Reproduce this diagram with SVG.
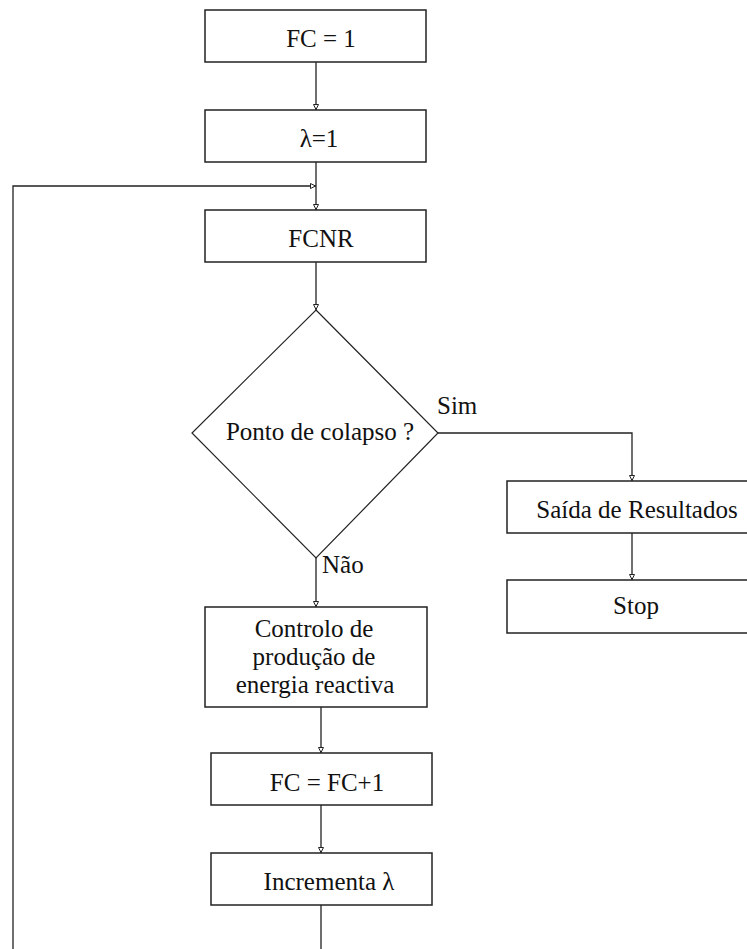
<svg xmlns="http://www.w3.org/2000/svg" width="747" height="949" viewBox="0 0 747 949">
  <style>
    .box { fill: #ffffff; stroke: #222222; stroke-width: 1.5; }
    .dia { fill: #ffffff; stroke: #222222; stroke-width: 1.2; }
    .conn { fill: none; stroke: #222222; stroke-width: 1.3; }
    text { font-family: 'Liberation Serif', 'DejaVu Serif', 'Times New Roman', serif; font-size: 25px; fill: #111111; }
    .mid { text-anchor: middle; }
  </style>
  <defs>
    <marker id="arr" viewBox="0 0 6 6" refX="6" refY="3" markerWidth="6" markerHeight="6" orient="auto" markerUnits="userSpaceOnUse">
      <path d="M0.5,0.5 L5.5,3 L0.5,5.5 Z" fill="#ffffff" stroke="#222222" stroke-width="1"/>
    </marker>
  </defs>
  <rect width="747" height="949" fill="#ffffff"/>

  <g id="connectors">
    <path class="conn" d="M316,62 V110" marker-end="url(#arr)"/>
    <path class="conn" d="M316,162 V210" marker-end="url(#arr)"/>
    <path class="conn" d="M316,262 V310" marker-end="url(#arr)"/>
    <path class="conn" d="M438,433 H632 V481" marker-end="url(#arr)"/>
    <path class="conn" d="M632,533 V580" marker-end="url(#arr)"/>
    <path class="conn" d="M316,558 V607" marker-end="url(#arr)"/>
    <path class="conn" d="M321,707 V753" marker-end="url(#arr)"/>
    <path class="conn" d="M321,805 V853" marker-end="url(#arr)"/>
    <path class="conn" d="M321,905 V952 H13 V186 H316" marker-end="url(#arr)"/>
    <text x="437" y="414">Sim</text>
    <text x="322" y="573">Não</text>
  </g>

  <g id="fc1">
    <rect class="box" x="205" y="10" width="221" height="52"/>
    <text class="mid" x="321" y="47">FC = 1</text>
  </g>
  <g id="lambda1">
    <rect class="box" x="205" y="110" width="221" height="52"/>
    <text class="mid" x="319" y="147">λ=1</text>
  </g>
  <g id="fcnr">
    <rect class="box" x="205" y="210" width="221" height="52"/>
    <text class="mid" x="321" y="247">FCNR</text>
  </g>
  <g id="colapso">
    <polygon class="dia" points="316,310 438,433 316,558 192,433"/>
    <text class="mid" x="320" y="440">Ponto de colapso ?</text>
  </g>
  <g id="saida">
    <rect class="box" x="507" y="481" width="245" height="52"/>
    <text class="mid" x="637" y="518">Saída de Resultados</text>
  </g>
  <g id="stop">
    <rect class="box" x="507" y="580" width="245" height="53"/>
    <text class="mid" x="636" y="614">Stop</text>
  </g>
  <g id="controlo">
    <rect class="box" x="205" y="607" width="222" height="100"/>
    <text class="mid" x="314" y="637">Controlo de</text>
    <text class="mid" x="314" y="665">produção de</text>
    <text class="mid" x="315" y="693">energia reactiva</text>
  </g>
  <g id="fcinc">
    <rect class="box" x="211" y="753" width="221" height="52"/>
    <text class="mid" x="327" y="791">FC = FC+1</text>
  </g>
  <g id="incrementa">
    <rect class="box" x="211" y="853" width="221" height="52"/>
    <text class="mid" x="329" y="890">Incrementa λ</text>
  </g>
</svg>
